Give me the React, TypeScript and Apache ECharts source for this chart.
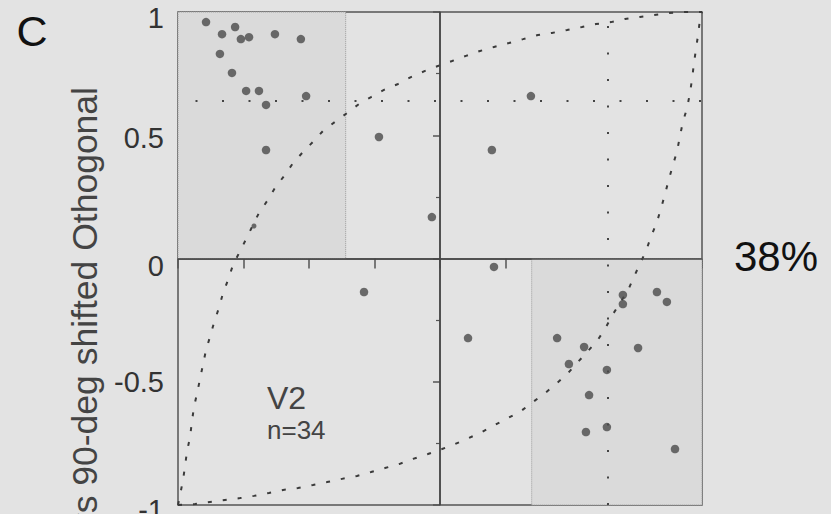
import { useEffect, useRef } from "react";
import * as echarts from "echarts";

// Dashed reference curve bowing to the upper-left
const curveA: [number, number][] = [
  [-1.0, -1.0], [-0.992, -0.959], [-0.981, -0.899], [-0.973, -0.842], [-0.966, -0.785],
  [-0.954, -0.724], [-0.947, -0.663], [-0.939, -0.602], [-0.927, -0.546], [-0.916, -0.489],
  [-0.905, -0.432], [-0.893, -0.371], [-0.878, -0.318], [-0.863, -0.262], [-0.844, -0.201],
  [-0.828, -0.14], [-0.809, -0.087], [-0.79, -0.026], [-0.767, 0.022], [-0.74, 0.079],
  [-0.691, 0.185], [-0.66, 0.233], [-0.63, 0.286], [-0.595, 0.335], [-0.561, 0.387],
  [-0.523, 0.432], [-0.485, 0.473], [-0.447, 0.517], [-0.401, 0.554], [-0.355, 0.59],
  [-0.309, 0.627], [-0.263, 0.655], [-0.214, 0.684], [-0.16, 0.708], [-0.111, 0.736],
  [-0.057, 0.761], [-0.008, 0.781], [0.046, 0.801], [0.099, 0.822], [0.153, 0.842],
  [0.206, 0.858], [0.263, 0.874], [0.317, 0.89], [0.374, 0.907], [0.427, 0.915],
  [0.485, 0.927], [0.542, 0.939], [0.595, 0.951], [0.653, 0.959], [0.706, 0.972],
  [0.763, 0.98], [0.817, 0.988], [0.874, 0.996], [0.931, 1.0], [1.0, 1.0],
];

// Dashed reference curve bowing to the lower-right
const curveB: [number, number][] = [
  [-1.0, -1.0], [-0.935, -0.996], [-0.878, -0.988], [-0.821, -0.98], [-0.763, -0.972],
  [-0.71, -0.963], [-0.653, -0.951], [-0.599, -0.939], [-0.542, -0.931], [-0.485, -0.919],
  [-0.431, -0.907], [-0.374, -0.894], [-0.317, -0.882], [-0.263, -0.866], [-0.21, -0.85],
  [-0.156, -0.834], [-0.103, -0.813], [-0.046, -0.793], [0.008, -0.773], [0.057, -0.753],
  [0.111, -0.728], [0.16, -0.704], [0.21, -0.675], [0.26, -0.647], [0.309, -0.619],
  [0.355, -0.582], [0.401, -0.546], [0.443, -0.509], [0.485, -0.469], [0.523, -0.424],
  [0.599, -0.335], [0.63, -0.286], [0.656, -0.233], [0.718, -0.128], [0.74, -0.075],
  [0.763, -0.022], [0.786, 0.03], [0.805, 0.087], [0.828, 0.148], [0.844, 0.205],
  [0.859, 0.262], [0.874, 0.323], [0.889, 0.379], [0.905, 0.436], [0.916, 0.497],
  [0.927, 0.554], [0.943, 0.61], [0.954, 0.671], [0.962, 0.728], [0.969, 0.789],
  [0.977, 0.85], [0.985, 0.907], [0.992, 0.968], [1.0, 1.0],
];

// Cell points (x, y)
const points: [number, number][] = [
  [-0.893, 0.959], [-0.832, 0.91], [-0.782, 0.939], [-0.76, 0.89], [-0.729, 0.898],
  [-0.63, 0.91], [-0.531, 0.89], [-0.84, 0.83], [-0.794, 0.753], [-0.74, 0.68],
  [-0.691, 0.68], [-0.664, 0.623], [-0.511, 0.659], [-0.664, 0.44], [-0.233, 0.493],
  [-0.031, 0.168], [0.347, 0.659], [0.198, 0.44], [-0.29, -0.136], [0.206, -0.034],
  [0.107, -0.323], [0.447, -0.323], [0.55, -0.359], [0.492, -0.428], [0.637, -0.452],
  [0.569, -0.554], [0.557, -0.704], [0.637, -0.684], [0.698, -0.148], [0.698, -0.185],
  [0.828, -0.136], [0.866, -0.176], [0.756, -0.363], [0.897, -0.773],
];
const smallPoints: [number, number][] = [[-0.71, 0.132]];

// Shaded quadrant regions: [xFrom, yFrom, xTo, yTo]
const shadedRegions: [number, number, number, number][] = [
  [-1, 0, -0.36, 1],
  [0.35, -1, 1, 0],
];
const dottedY = 0.635;
const dottedX = 0.64;

// Y tick labels as printed
const yTickLabels: Record<string, string> = { "1": "1", "0.5": "0.5", "0": "0", "-0.5": "-0.5", "-1": "-1" };

const FONT = "'Liberation Sans', Arial, sans-serif";
const BG = "#e3e3e3";

export default function App() {
  const ref = useRef<HTMLDivElement>(null);
  useEffect(() => {
    const chart = echarts.init(ref.current!, null, { renderer: "svg" });
    const labelStyle = { fontSize: 29, color: "#333", fontFamily: FONT };
    const padTop: Record<string, number> = { "1": 12, "0.5": 5, "0": 14, "-0.5": 0, "-1": 10 };
    const rich: Record<string, any> = {};
    Object.keys(padTop).forEach((k, i) => {
      rich["p" + i] = { ...labelStyle, padding: [padTop[k], 0, 0, 0] };
    });
    const keys = Object.keys(padTop);
    chart.setOption({
      animation: false,
      backgroundColor: BG,
      grid: {
        left: 178,
        right: 129,
        top: 12,
        bottom: 9,
        outerBoundsMode: "none",
        containLabel: false,
        show: true,
        borderColor: "#555",
        borderWidth: 1.5,
        backgroundColor: "transparent",
      },
      xAxis: {
        type: "value",
        min: -1,
        max: 1,
        interval: 0.25,
        axisLine: { show: true, lineStyle: { color: "#555", width: 1.5 } },
        axisTick: { show: true, length: 10, lineStyle: { color: "#555", width: 1.5 } },
        axisLabel: { show: false },
        splitLine: { show: false },
      },
      yAxis: {
        type: "value",
        min: -1,
        max: 1,
        interval: 0.5,
        axisLine: { show: true, lineStyle: { color: "#555", width: 1.5 } },
        axisTick: { show: true, length: 7, lineStyle: { color: "#555", width: 1.5 } },
        minorTick: { show: true, splitNumber: 2, length: 4, lineStyle: { color: "#555", width: 1.2 } },
        axisLabel: {
          ...labelStyle,
          margin: 14,
          formatter: (v: number) => {
            const k = String(v);
            const i = keys.indexOf(k);
            const txt = yTickLabels[k] ?? k;
            return i >= 0 ? `{p${i}|${txt}}` : txt;
          },
          rich,
        },
        splitLine: { show: false },
      },
      graphic: [
        {
          type: "text",
          x: 32,
          y: 31,
          style: { text: "C", font: `43px ${FONT}`, fill: "#111", textAlign: "center", textVerticalAlign: "middle" },
        },
        {
          type: "text",
          x: 776,
          y: 256,
          style: { text: "38%", font: `42px ${FONT}`, fill: "#111", textAlign: "center", textVerticalAlign: "middle" },
        },
        {
          type: "text",
          x: 267,
          y: 398,
          style: { text: "V2", font: `32px ${FONT}`, fill: "#444", textAlign: "left", textVerticalAlign: "middle" },
        },
        {
          type: "text",
          x: 267,
          y: 430,
          style: { text: "n=34", font: `26px ${FONT}`, fill: "#444", textAlign: "left", textVerticalAlign: "middle" },
        },
        {
          type: "text",
          x: 85,
          y: 87,
          rotation: Math.PI / 2,
          style: {
            text: "vs 90-deg shifted Othogonal",
            font: `35.5px ${FONT}`,
            fill: "#444",
            textAlign: "right",
            textVerticalAlign: "middle",
          },
        },
      ],
      series: [
        {
          type: "line",
          data: [],
          z: 1,
          silent: true,
          markArea: {
            silent: true,
            itemStyle: { color: "#dadada", borderColor: "#9a9a9a", borderWidth: 1, borderType: "dotted" },
            data: shadedRegions.map(([x0, y0, x1, y1]) => [
              { coord: [x0, y0] },
              { coord: [x1, y1] },
            ]),
          },
        },
        {
          type: "line",
          data: [],
          z: 2,
          silent: true,
          markLine: {
            silent: true,
            symbol: "none",
            label: { show: false },
            data: [
              { xAxis: 0, lineStyle: { color: "#444", width: 1.5, type: "solid" } },
              { yAxis: 0, lineStyle: { color: "#444", width: 1.5, type: "solid" } },
              { yAxis: dottedY, lineStyle: { color: "#444", width: 2, type: [2, 24.5], dashOffset: 8.5 } },
              { xAxis: dottedX, lineStyle: { color: "#444", width: 2, type: [2, 24.5] } },
            ],
          },
        },
        {
          type: "line",
          data: curveA,
          z: 3,
          showSymbol: false,
          silent: true,
          lineStyle: { color: "#3a3a3a", width: 2, type: [4, 11] },
        },
        {
          type: "line",
          data: curveB,
          z: 3,
          showSymbol: false,
          silent: true,
          lineStyle: { color: "#3a3a3a", width: 2, type: [4, 11] },
        },
        {
          type: "scatter",
          data: points,
          z: 5,
          symbolSize: 8.5,
          itemStyle: { color: "#4a4a4a" },
        },
        {
          type: "scatter",
          data: smallPoints,
          z: 5,
          symbolSize: 5,
          itemStyle: { color: "#4a4a4a" },
        },
      ],
    });
    return () => chart.dispose();
  }, []);
  return <div ref={ref} style={{ position: "fixed", left: 0, top: 0, width: 831, height: 514 }} />;
}
